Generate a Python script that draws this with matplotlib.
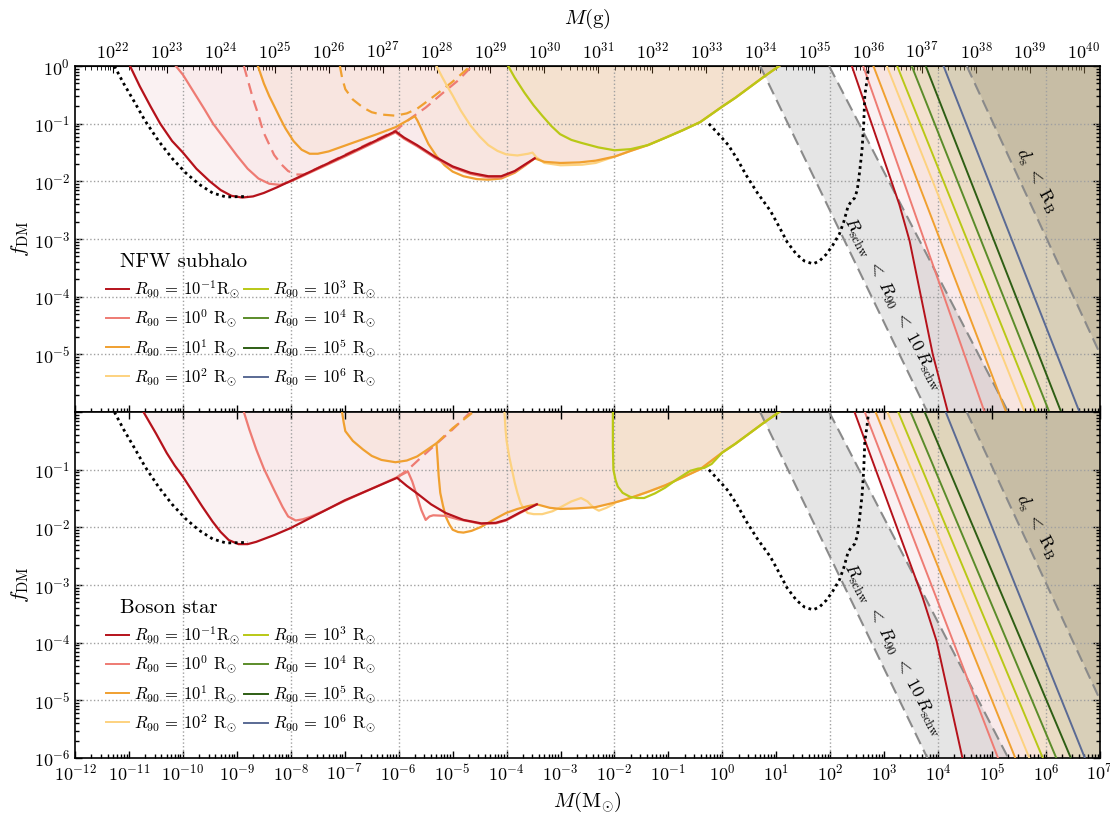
import numpy as np
import matplotlib
matplotlib.use("Agg")
import matplotlib.pyplot as plt
from matplotlib.ticker import LogLocator, LogFormatterMathtext, FixedLocator, NullFormatter

plt.rcParams['font.family'] = 'cmr10'
plt.rcParams['mathtext.fontset'] = 'cm'
plt.rcParams['axes.formatter.use_mathtext'] = True
plt.rcParams['axes.unicode_minus'] = False

# ---- data (log10 values) ----
r90_exp = [-1, 0, 1, 2, 3, 4, 5, 6]
colors = ['#b5121b', '#ee7b73', '#f0a030', '#fdd27f', '#b9c816', '#5b8c2a', '#2e5e14', '#5a6a94']

# point-lens microlensing limits (dotted)
pbh_left_m = [-11.27, -11.1, -10.9, -10.7, -10.45, -10.2, -9.95, -9.7, -9.45, -9.2, -8.8]
pbh_left_f = [0.0, -0.3, -0.62, -0.95, -1.3, -1.6, -1.85, -2.05, -2.2, -2.27, -2.26]
pbh_right_m = [-0.25, -0.05, 0.11, 0.28, 0.44, 0.65, 0.89, 1.06, 1.2, 1.37, 1.52, 1.68, 1.8, 1.93,
               2.05, 2.17, 2.25, 2.33, 2.4, 2.45, 2.5, 2.53, 2.56, 2.59, 2.62, 2.64, 2.68, 2.71]
pbh_right_f = [-1.0, -1.2, -1.37, -1.62, -1.89, -2.2, -2.51, -2.8, -3.05, -3.26, -3.38, -3.43, -3.38, -3.26,
               -3.1, -2.91, -2.7, -2.43, -2.33, -2.29, -2.15, -1.94, -1.7, -1.43, -1.0, -0.51, -0.25, 0.0]

# NFW subhalo
nfw_env_m = [-3.48, -3.3, -3.0, -2.65, -2.35, -2.0, -1.7, -1.38, -1.05, -0.73, -0.41, 0.0, 0.24, 0.5, 0.76, 1.05]
nfw_env_f = [-1.60, -1.66, -1.68, -1.67, -1.64, -1.57, -1.47, -1.37, -1.24, -1.11, -0.97, -0.70, -0.55, -0.37, -0.19, 0.0]
nfw_red_m = [-10.98, -10.8, -10.6, -10.42, -10.2, -10.0, -9.75, -9.5, -9.3, -9.1, -8.9, -8.7, -8.5, -8.25, -8.0,
             -7.0, -6.06, -5.9, -5.66, -5.33, -5.0, -4.67, -4.34, -4.1, -3.85, -3.65]
nfw_red_f = [0.0, -0.35, -0.7, -1.0, -1.3, -1.5, -1.78, -2.0, -2.15, -2.25, -2.28, -2.26, -2.2, -2.1, -1.99,
             -1.55, -1.13, -1.24, -1.37, -1.57, -1.74, -1.85, -1.91, -1.91, -1.82, -1.70]
nfw_sal_m = [-10.13, -10.0, -9.8, -9.6, -9.44, -9.2, -9.0, -8.8, -8.6, -8.4, -8.2, -8.0,
             -7.0, -6.06, -5.9, -5.66, -5.33, -5.0, -4.67, -4.34, -4.1, -3.85, -3.65]
nfw_sal_f = [0.0, -0.15, -0.45, -0.75, -1.0, -1.3, -1.55, -1.78, -1.95, -2.04, -2.06, -2.0,
             -1.57, -1.15, -1.26, -1.39, -1.59, -1.76, -1.87, -1.93, -1.93, -1.83, -1.71]
nfw_ora_m = [-8.61, -8.5, -8.4, -8.31, -8.2, -8.1, -7.95, -7.8, -7.65, -7.5, -7.3, -7.0, -6.4, -6.06, -5.70,
             -5.65, -5.55, -5.45, -5.3, -5.15, -5.0, -4.8, -4.55, -4.34, -4.1, -3.85, -3.65]
nfw_ora_f = [0.0, -0.3, -0.52, -0.69, -0.9, -1.08, -1.3, -1.45, -1.52, -1.52, -1.48, -1.38, -1.18, -1.06, -0.87,
             -0.95, -1.15, -1.35, -1.56, -1.72, -1.83, -1.91, -1.96, -1.97, -1.95, -1.85, -1.72]
nfw_lor_m = [-5.30, -5.2, -5.1, -5.0, -4.85, -4.67, -4.5, -4.34, -4.17, -4.01, -3.8, -3.6, -3.52, -3.45, -3.3,
             -3.0, -2.6, -2.35]
nfw_lor_f = [0.0, -0.18, -0.35, -0.51, -0.77, -1.03, -1.22, -1.37, -1.47, -1.53, -1.55, -1.52, -1.50, -1.58, -1.68,
             -1.72, -1.71, -1.68]
nfw_lime_m = [-3.97, -3.85, -3.67, -3.5, -3.34, -3.17, -3.01, -2.8, -2.62, -2.3, -2.0, -1.7]
nfw_lime_f = [0.0, -0.2, -0.46, -0.68, -0.86, -1.04, -1.18, -1.28, -1.33, -1.41, -1.46, -1.44]
nfw_sal_dash_m = [-8.87, -8.78, -8.7, -8.6, -8.51, -8.4, -8.31, -8.18, -8.05, -7.9, -7.75, -7.0, -6.06,
                  -5.8, -5.5, -5.2, -4.9, -4.64]
nfw_sal_dash_f = [0.0, -0.3, -0.57, -0.85, -1.14, -1.36, -1.54, -1.7, -1.82, -1.88, -1.88, -1.54, -1.12,
                  -0.92, -0.72, -0.48, -0.25, 0.0]
nfw_ora_dash_m = [-7.09, -7.05, -6.99, -6.85, -6.66, -6.5, -6.32, -6.06, -5.85, -5.66, -5.5, -5.33, -5.0, -4.67]
nfw_ora_dash_f = [0.0, -0.2, -0.4, -0.58, -0.72, -0.8, -0.84, -0.86, -0.82, -0.74, -0.63, -0.51, -0.27, 0.0]
nfw_diag_m = [[2.40, 3.28, 3.47, 3.90, 4.18], [2.61, 4.86], [2.80, 5.26], [3.05, 5.60],
              [3.24, 5.82], [3.51, 6.06], [3.77, 6.28], [4.10, 6.62]]
nfw_diag_f = [[0.0, -2.4, -3.03, -5.0, -6.0], [0.0, -6.0], [0.0, -6.0], [0.0, -6.0],
              [0.0, -6.0], [0.0, -6.0], [0.0, -6.0], [0.0, -6.0]]

# Boson star
bs_env_m = [-3.44, -3.2, -3.0, -2.7, -2.36, -2.0, -1.71, -1.4, -1.06, -0.73, -0.41, 0.0, 0.24, 0.5, 0.76, 1.05]
bs_env_f = [-1.60, -1.66, -1.68, -1.67, -1.65, -1.57, -1.49, -1.39, -1.27, -1.13, -0.99, -0.70, -0.55, -0.37, -0.19, 0.0]
bs_red_m = [-10.73, -10.5, -10.3, -10.15, -10.0, -9.82, -9.64, -9.45, -9.3, -9.15, -8.97, -8.8, -8.64, -8.3, -8.0,
            -7.0, -6.03, -5.85, -5.66, -5.4, -5.13, -4.8, -4.47, -4.2, -4.01, -3.75]
bs_red_f = [0.0, -0.37, -0.71, -0.93, -1.12, -1.38, -1.64, -1.9, -2.08, -2.22, -2.29, -2.29, -2.25, -2.13, -2.01,
            -1.53, -1.14, -1.28, -1.41, -1.6, -1.75, -1.87, -1.93, -1.92, -1.87, -1.74]
bs_sal_m = [-8.87, -8.77, -8.64, -8.5, -8.31, -8.15, -8.05, -7.91, -7.78, -7.65, -7.4, -7.0, -6.03, -5.83,
            -5.75, -5.66, -5.58, -5.5, -5.43, -5.36, -5.13, -4.9, -4.67, -4.47, -4.2, -4.01, -3.75]
bs_sal_f = [0.0, -0.3, -0.65, -0.98, -1.35, -1.65, -1.81, -1.88, -1.86, -1.82, -1.72, -1.54, -1.13, -1.03,
            -1.2, -1.46, -1.7, -1.87, -1.81, -1.79, -1.80, -1.86, -1.90, -1.94, -1.93, -1.88, -1.75]
bs_ora_m = [-7.05, -7.02, -6.99, -6.85, -6.66, -6.5, -6.32, -6.06, -5.85, -5.66, -5.5, -5.30, -5.28, -5.26, -5.23,
            -5.18, -5.13, -5.06, -5.0, -4.9, -4.8, -4.65, -4.47, -4.25, -4.01, -3.8, -3.6]
bs_ora_f = [0.0, -0.18, -0.33, -0.5, -0.65, -0.76, -0.83, -0.87, -0.84, -0.77, -0.67, -0.54, -0.8, -1.1, -1.4,
            -1.62, -1.81, -1.95, -2.04, -2.08, -2.09, -2.06, -1.99, -1.87, -1.75, -1.68, -1.63]
bs_lor_m = [-4.04, -4.02, -4.0, -3.95, -3.9, -3.85, -3.8, -3.74, -3.68, -3.61, -3.5, -3.34, -3.15, -3.0, -2.8,
            -2.62, -2.5, -2.45, -2.37, -2.29, -2.15, -2.02]
bs_lor_f = [0.0, -0.3, -0.5, -0.78, -1.0, -1.22, -1.4, -1.58, -1.68, -1.75, -1.77, -1.77, -1.72, -1.65, -1.55,
            -1.49, -1.55, -1.6, -1.67, -1.71, -1.66, -1.6]
bs_lime_m = [-2.03, -2.03, -2.02, -1.98, -1.94, -1.85, -1.71, -1.58, -1.45, -1.25, -1.06, -0.85, -0.6, -0.45, -0.34, -0.2]
bs_lime_f = [0.0, -0.6, -1.0, -1.18, -1.29, -1.4, -1.47, -1.49, -1.49, -1.41, -1.31, -1.17, -1.02, -0.98, -0.97, -0.9]
bs_sal_dash_m = [-6.03, -5.83, -5.6, -5.3, -5.0, -4.67]
bs_sal_dash_f = [-1.13, -1.0, -0.8, -0.55, -0.3, 0.0]
bs_ora_dash_m = [-5.30, -5.0, -4.62]
bs_ora_dash_f = [-0.54, -0.28, 0.0]
bs_diag_m = [[2.45, 3.71, 3.97, 4.45], [2.64, 5.11], [2.84, 5.43], [3.06, 5.69],
             [3.26, 5.94], [3.49, 6.19], [3.75, 6.46], [4.14, 6.72]]
bs_diag_f = [[0.0, -3.21, -3.97, -6.0], [0.0, -6.0], [0.0, -6.0], [0.0, -6.0],
             [0.0, -6.0], [0.0, -6.0], [0.0, -6.0], [0.0, -6.0]]

# shaded bands
band_f = [0.0, -6.0]
band_lo_m = [0.70, 3.80]
band_hi_m = [1.98, 5.30]
ds_m = [4.53, 7.5]
ds_f = [0.0, -6.0]

gram_ticks = list(range(22, 41))

MSUN_G = 1.989e33
XMIN, XMAX = 1e-12, 1e7
A = 0.055


def join(m, f, env_m=None, env_f=None):
    m = np.asarray(m, float)
    f = np.asarray(f, float)
    if env_m is not None:
        em = np.asarray(env_m, float)
        ef = np.asarray(env_f, float)
        keep = em > m[-1]
        m = np.concatenate([m, em[keep]])
        f = np.concatenate([f, ef[keep]])
    return 10 ** m, 10 ** f


def draw_panel(ax, solids, env, dashes, diag_m, diag_f, title):
    # left-hand curves (filled above)
    z = [4.4, 4.3, 4.1, 4.0, 4.2]
    for i, (m, f) in enumerate(solids):
        x, y = join(m, f, *env)
        ax.fill_between(x, y, 1, color=colors[i], alpha=A, lw=0, zorder=1)
        if i < 2:
            # red / salmon lines stop where the common envelope starts
            x, y = join(list(m) + [env[0][0]], list(f) + [env[1][0]])
        ax.plot(x, y, color=colors[i], lw=1.6, zorder=z[i])
    for (m, f), c in zip(dashes, [colors[1], colors[2]]):
        x, y = join(m, f)
        ax.plot(x, y, color=c, lw=1.6, ls=(0, (5, 3)), zorder=3.9)

    # right-hand diagonal constraints (filled to the right)
    for i in range(len(r90_exp)):
        x, y = join(diag_m[i], diag_f[i])
        ax.fill_betweenx(y, x, XMAX, color=colors[i], alpha=A, lw=0, zorder=1)
        if r90_exp[i] < 0:
            lab = r'$R_{90}$ = $10^{%d}$R$_{\odot}$' % r90_exp[i]
        else:
            lab = r'$R_{90}$ = $10^{%d}$ R$_{\odot}$' % r90_exp[i]
        ax.plot(x, y, color=colors[i], lw=1.4, zorder=4, label=lab)

    # schwarzschild band and d_s < R_B region
    yb = 10 ** np.asarray(band_f)
    ax.fill_betweenx(yb, 10 ** np.asarray(band_lo_m), 10 ** np.asarray(band_hi_m),
                     color='#7f7f7f', alpha=0.2, lw=0, zorder=1.2)
    for m in (band_lo_m, band_hi_m):
        ax.plot(10 ** np.asarray(m), yb, color='#8a8a8a', lw=1.5, ls=(0, (6, 3)), zorder=3)
    yd = 10 ** np.asarray(ds_f)
    ax.fill_betweenx(yd, 10 ** np.asarray(ds_m), XMAX, color='#85765c', alpha=0.2, lw=0, zorder=1.2)
    ax.plot(10 ** np.asarray(ds_m), yd, color='#8a8a8a', lw=1.5, ls=(0, (6, 3)), zorder=3)

    # point-lens limits
    for m, f in ((pbh_left_m, pbh_left_f), (pbh_right_m, pbh_right_f)):
        x, y = join(m, f)
        ax.plot(x, y, color='k', lw=2.0, ls=(0, (1, 1.3)), zorder=5)

    # grid
    for e in range(-10, 7, 2):
        ax.axvline(10.0 ** e, color='#a0a0a0', lw=1, ls=':', zorder=2)
    for e in range(-5, 0):
        ax.axhline(10.0 ** e, color='#a0a0a0', lw=1, ls=':', zorder=2)

    ax.set_xscale('log')
    ax.set_yscale('log')
    ax.set_xlim(XMIN, XMAX)
    ax.set_ylim(1e-6, 1)
    ax.xaxis.set_major_locator(FixedLocator(10.0 ** np.arange(-12, 8)))
    ax.xaxis.set_major_formatter(LogFormatterMathtext())
    ax.xaxis.set_minor_locator(LogLocator(base=10, subs=np.arange(2, 10), numticks=40))
    ax.xaxis.set_minor_formatter(NullFormatter())
    ax.yaxis.set_major_locator(FixedLocator(10.0 ** np.arange(-6, 1)))
    ax.yaxis.set_major_formatter(LogFormatterMathtext())
    ax.yaxis.set_minor_locator(LogLocator(base=10, subs=np.arange(2, 10), numticks=40))
    ax.yaxis.set_minor_formatter(NullFormatter())
    ax.tick_params(which='both', direction='in', right=True, labelsize=13, width=1)
    ax.tick_params(which='major', length=5)
    ax.tick_params(which='minor', length=3)
    for s in ax.spines.values():
        s.set_linewidth(1.2)
    ax.set_ylabel(r'$f_{\rm DM}$', fontsize=15, labelpad=2)

    ax.text(10 ** -11.17, 10 ** -3.40, title, fontsize=15, ha='left', va='center', zorder=6)
    ax.legend(loc='upper left', bbox_to_anchor=(0.03, 0.385), ncol=2, frameon=False,
              fontsize=12, handlelength=1.4, handletextpad=0.3, columnspacing=0.25,
              labelspacing=0.45, borderpad=0, borderaxespad=0)
    ax.text(10 ** 3.16, 10 ** -4.12, r'$R_{\rm schw}\ <\ R_{90}\ <\ 10\,R_{\rm schw}$',
            fontsize=13, rotation=-62, ha='center', va='center', rotation_mode='anchor', zorder=6)
    ax.text(10 ** 5.83, 10 ** -1.98, r'$d_{\rm s}\ <\ \mathrm{R}_{\rm B}$',
            fontsize=13, rotation=-62, ha='center', va='center', rotation_mode='anchor', zorder=6)


fig = plt.figure(figsize=(11.1, 8.16), dpi=100)
gs = fig.add_gridspec(2, 1, hspace=0, left=0.0676, right=0.991, bottom=0.071, top=0.919)
ax_top = fig.add_subplot(gs[0])
ax_bot = fig.add_subplot(gs[1])

draw_panel(ax_top,
           [(nfw_red_m, nfw_red_f), (nfw_sal_m, nfw_sal_f), (nfw_ora_m, nfw_ora_f),
            (nfw_lor_m, nfw_lor_f), (nfw_lime_m, nfw_lime_f)],
           (nfw_env_m, nfw_env_f),
           [(nfw_sal_dash_m, nfw_sal_dash_f), (nfw_ora_dash_m, nfw_ora_dash_f)],
           nfw_diag_m, nfw_diag_f, 'NFW subhalo')
draw_panel(ax_bot,
           [(bs_red_m, bs_red_f), (bs_sal_m, bs_sal_f), (bs_ora_m, bs_ora_f),
            (bs_lor_m, bs_lor_f), (bs_lime_m, bs_lime_f)],
           (bs_env_m, bs_env_f),
           [(bs_sal_dash_m, bs_sal_dash_f), (bs_ora_dash_m, bs_ora_dash_f)],
           bs_diag_m, bs_diag_f, 'Boson star')

ax_top.tick_params(labelbottom=False)
ax_bot.tick_params(top=True)
# hide the 10^-6 label of the upper panel and 10^0 label of the lower one
fig.canvas.draw()
ax_top.yaxis.get_major_ticks()[0].label1.set_visible(False)
ax_bot.yaxis.get_major_ticks()[-1].label1.set_visible(False)

ax_bot.set_xlabel(r'$M(\mathrm{M}_{\odot})$', fontsize=15, labelpad=4)

sec = ax_top.secondary_xaxis('top', functions=(lambda m: m * MSUN_G, lambda g: g / MSUN_G))
sec.xaxis.set_major_locator(FixedLocator(10.0 ** np.array(gram_ticks)))
sec.xaxis.set_major_formatter(LogFormatterMathtext())
sec.xaxis.set_minor_locator(LogLocator(base=10, subs=np.arange(2, 10), numticks=40))
sec.xaxis.set_minor_formatter(NullFormatter())
sec.tick_params(which='both', direction='in', labelsize=13)
sec.tick_params(which='major', length=5)
sec.tick_params(which='minor', length=3)
sec.set_xlabel(r'$M(\mathrm{g})$', fontsize=15, labelpad=12)

fig.savefig('out.png', dpi=100)
